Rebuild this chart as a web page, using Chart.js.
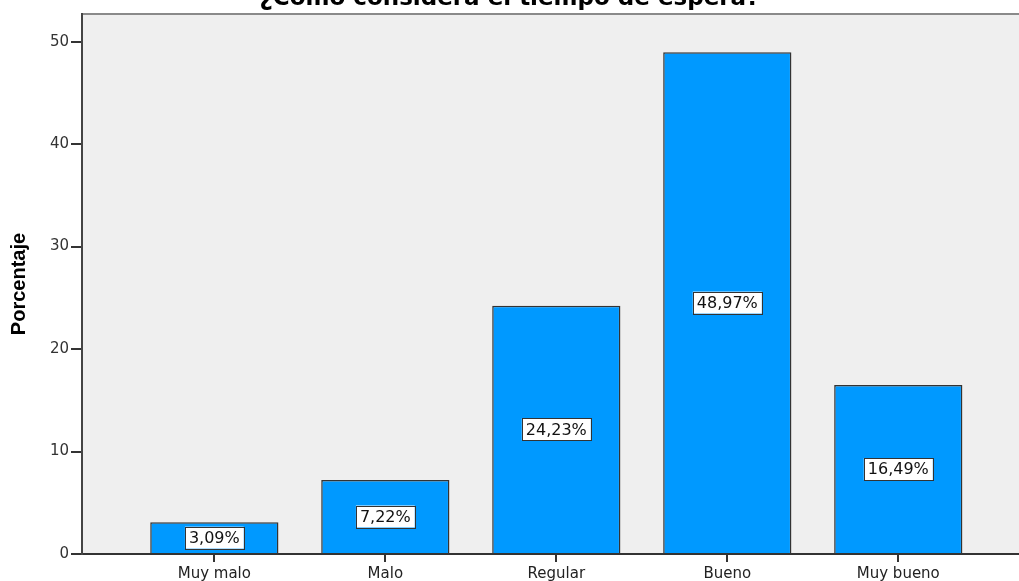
<!DOCTYPE html>
<html>
<head>
<meta charset="utf-8">
<script src="https://cdn.jsdelivr.net/npm/chart.js@4.4.1/dist/chart.umd.min.js"></script>
<style>
  body { margin: 0; background: #fff; overflow: hidden; }
  canvas { display: block; }
</style>
</head>
<body>
<canvas id="myChart" width="1019" height="581"></canvas>
<script>
const categories = ['Muy malo', 'Malo', 'Regular', 'Bueno', 'Muy bueno'];
const percentages = [3.09, 7.22, 24.23, 48.97, 16.49];
const yTicks = [0, 10, 20, 30, 40, 50];

const ctx = document.getElementById('myChart').getContext('2d');

// grey plot background + top border
const plotBackground = {
    id: 'plotBackground',
    beforeDraw(chart) {
        const {ctx, chartArea: a} = chart;
        ctx.save();
        ctx.fillStyle = '#efefef';
        ctx.fillRect(a.left, a.top, a.right - a.left, a.bottom - a.top);
        ctx.strokeStyle = '#8a8a8a';
        ctx.lineWidth = 2;
        ctx.beginPath();
        ctx.moveTo(a.left, a.top);
        ctx.lineTo(a.right, a.top);
        ctx.stroke();
        ctx.restore();
    }
};

// boxed percentage labels in the middle of each bar
const barLabels = {
    id: 'barLabels',
    afterDatasetsDraw(chart) {
        const {ctx} = chart;
        const meta = chart.getDatasetMeta(0);
        ctx.save();
        ctx.font = '16px "DejaVu Sans"';
        ctx.textAlign = 'center';
        ctx.textBaseline = 'middle';
        meta.data.forEach((bar, i) => {
            const text = percentages[i].toFixed(2).replace('.', ',') + '%';
            const w = ctx.measureText(text).width + 8;
            const h = 22;
            const cy = (bar.y + bar.base) / 2;
            ctx.fillStyle = '#fff';
            ctx.fillRect(bar.x - w / 2, cy - h / 2, w, h);
            ctx.strokeStyle = '#333';
            ctx.lineWidth = 1;
            ctx.strokeRect(Math.round(bar.x - w / 2) + 0.5, Math.round(cy - h / 2) + 0.5, Math.round(w), h);
            ctx.fillStyle = '#111';
            ctx.fillText(text, bar.x, cy + 1);
        });
        ctx.restore();
    }
};

const chart = new Chart(ctx, {
    type: 'bar',
    data: {
        datasets: [{
            data: percentages.map((v, i) => ({x: i, y: v})),
            backgroundColor: '#0099ff',
            borderColor: '#333',
            borderWidth: 1.5,
            borderSkipped: 'bottom',
            barPercentage: 0.75,
            categoryPercentage: 1
        }]
    },
    options: {
        responsive: false,
        animation: false,
        layout: { padding: 0 },
        plugins: {
            legend: { display: false },
            tooltip: { enabled: false },
            title: {
                display: true,
                text: '¿Cómo considera el tiempo de espera?',
                color: '#000',
                font: { family: '"DejaVu Sans"', size: 23, weight: 'bold' },
                padding: { top: -14.8, bottom: 1.2 }
            }
        },
        scales: {
            x: {
                type: 'linear',
                offset: false,
                min: -0.774,
                max: 4.706,
                afterBuildTicks: axis => { axis.ticks = categories.map((c, i) => ({value: i})); },
                afterFit: axis => { axis.height = 27; },
                ticks: {
                    callback: v => categories[v],
                    color: '#222',
                    font: { family: '"DejaVu Sans"', size: 15 },
                    padding: 3,
                    maxRotation: 0,
                    autoSkip: false
                },
                grid: {
                    offset: false,
                    drawOnChartArea: false,
                    drawTicks: true,
                    tickLength: 8,
                    color: '#333',
                    lineWidth: 2
                },
                border: { display: true, color: '#333', width: 2 }
            },
            y: {
                min: 0,
                max: 52.7,
                afterBuildTicks: axis => { axis.ticks = yTicks.map(v => ({value: v})); },
                afterFit: axis => { axis.width = 82; },
                ticks: {
                    color: '#333',
                    font: { family: '"DejaVu Sans"', size: 15 },
                    padding: 2
                },
                grid: {
                    drawOnChartArea: false,
                    drawTicks: true,
                    tickLength: 11,
                    color: '#333',
                    lineWidth: 2
                },
                border: { display: true, color: '#444', width: 2 },
                title: {
                    display: true,
                    text: 'Porcentaje',
                    color: '#000',
                    font: { family: '"Liberation Sans", Arial, sans-serif', size: 20, weight: 'bold' },
                    padding: { top: 7, bottom: 0 }
                }
            }
        }
    },
    plugins: [plotBackground, barLabels]
});
</script>
</body>
</html>
